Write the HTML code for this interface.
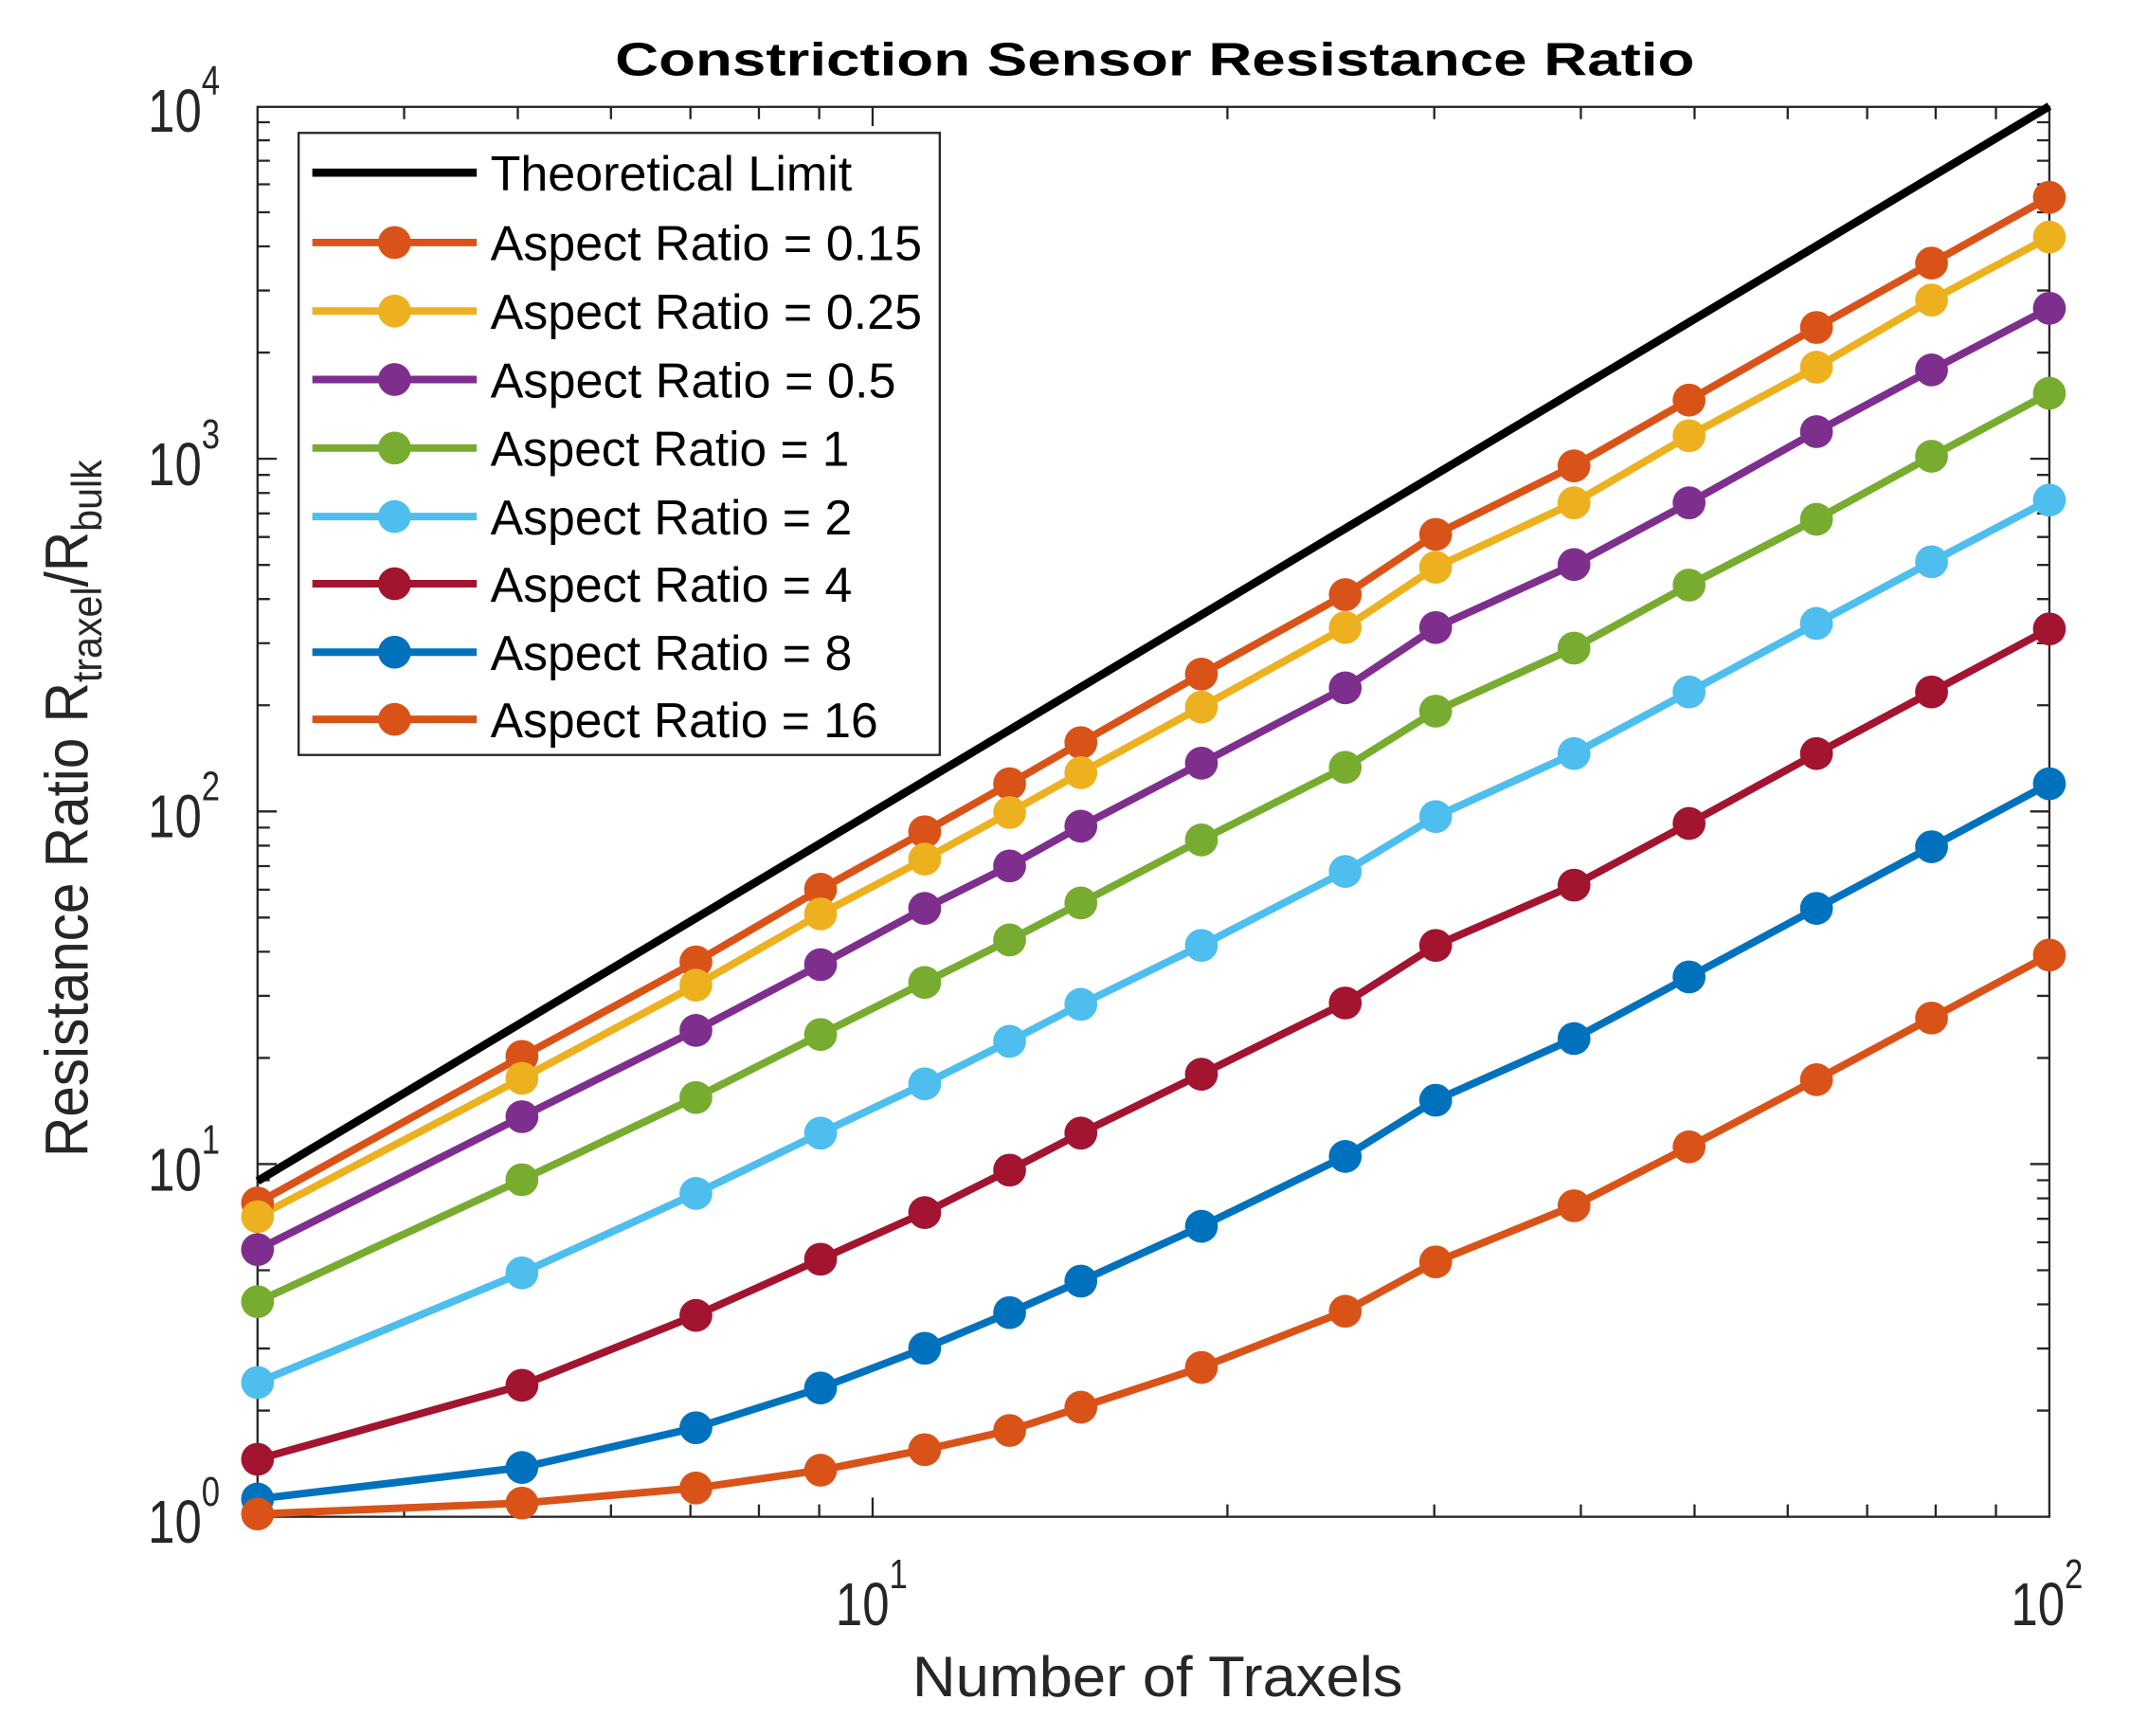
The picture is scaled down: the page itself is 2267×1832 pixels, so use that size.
<!DOCTYPE html>
<html><head><meta charset="utf-8"><style>html,body{margin:0;padding:0;background:#fff}svg{display:block}</style></head>
<body>
<svg width="2267" height="1832" viewBox="0 0 1568 1267" preserveAspectRatio="none" xmlns="http://www.w3.org/2000/svg" font-family="Liberation Sans, Arial, sans-serif">
<rect width="1568" height="1267" fill="#fff"/>
<text x="843" y="55" font-size="34" font-weight="bold" text-anchor="middle" fill="#000" textLength="788" lengthAdjust="spacingAndGlyphs">Constriction Sensor Resistance Ratio</text>
<g stroke="#262626" stroke-width="1.6" fill="none">
<rect x="188" y="78" width="1308" height="1029"/>
<path d="M188 849.6h14M188 592.2h14M188 334.8h14M1496 849.6h-14M1496 592.2h-14M1496 334.8h-14
M637 1107v-14M637 78v14"/>
<path d="M188 1029.5h9M188 984.2h9M188 952h9M188 927.1h9M188 906.7h9M188 889.5h9M188 874.6h9M188 861.4h9
M188 772.1h9M188 726.8h9M188 694.6h9M188 669.7h9M188 649.3h9M188 632.1h9M188 617.2h9M188 604h9
M188 514.7h9M188 469.4h9M188 437.2h9M188 412.3h9M188 391.9h9M188 374.7h9M188 359.8h9M188 346.6h9
M188 257.3h9M188 212h9M188 179.8h9M188 154.9h9M188 134.5h9M188 117.3h9M188 102.4h9M188 89.2h9"/>
<path d="M1496 1029.5h-9M1496 984.2h-9M1496 952h-9M1496 927.1h-9M1496 906.7h-9M1496 889.5h-9M1496 874.6h-9M1496 861.4h-9
M1496 772.1h-9M1496 726.8h-9M1496 694.6h-9M1496 669.7h-9M1496 649.3h-9M1496 632.1h-9M1496 617.2h-9M1496 604h-9
M1496 514.7h-9M1496 469.4h-9M1496 437.2h-9M1496 412.3h-9M1496 391.9h-9M1496 374.7h-9M1496 359.8h-9M1496 346.6h-9
M1496 257.3h-9M1496 212h-9M1496 179.8h-9M1496 154.9h-9M1496 134.5h-9M1496 117.3h-9M1496 102.4h-9M1496 89.2h-9"/>
<path d="M295 1107v-9M378 1107v-9M446 1107v-9M504 1107v-9M554 1107v-9M598 1107v-9M896 1107v-9M1047 1107v-9M1154 1107v-9M1237 1107v-9M1305 1107v-9M1363 1107v-9M1413 1107v-9M1457 1107v-9
M295 78v9M378 78v9M446 78v9M504 78v9M554 78v9M598 78v9M896 78v9M1047 78v9M1154 78v9M1237 78v9M1305 78v9M1363 78v9M1413 78v9M1457 78v9"/>
</g>
<g font-size="44" fill="#262626">
<g transform="translate(108,1126) scale(0.8,1)"><text x="0" y="0">10<tspan font-size="30" dy="-27">0</tspan></text></g>
<g transform="translate(108,869) scale(0.8,1)"><text x="0" y="0">10<tspan font-size="30" dy="-27">1</tspan></text></g>
<g transform="translate(108,611) scale(0.8,1)"><text x="0" y="0">10<tspan font-size="30" dy="-27">2</tspan></text></g>
<g transform="translate(108,354) scale(0.8,1)"><text x="0" y="0">10<tspan font-size="30" dy="-27">3</tspan></text></g>
<g transform="translate(108,96) scale(0.8,1)"><text x="0" y="0">10<tspan font-size="30" dy="-27">4</tspan></text></g>
<g transform="translate(610,1186) scale(0.8,1)"><text x="0" y="0">10<tspan font-size="30" dy="-27">1</tspan></text></g>
<g transform="translate(1468,1186) scale(0.8,1)"><text x="0" y="0">10<tspan font-size="30" dy="-27">2</tspan></text></g>
</g>
<text x="845" y="1238" font-size="42" fill="#262626" text-anchor="middle" textLength="358" lengthAdjust="spacingAndGlyphs">Number of Traxels</text>
<g transform="translate(64,590) rotate(-90) scale(0.92,1)"><text font-size="44" fill="#262626" text-anchor="middle">Resistance Ratio R<tspan font-size="31" dy="10">traxel</tspan><tspan dy="-10">/R</tspan><tspan font-size="31" dy="10">bulk</tspan></text></g>
<g fill="none" stroke-width="5.5" stroke-linejoin="round">
<polyline stroke="#000" stroke-width="6" points="188,862 1496,77.5"/>
<polyline stroke="#D95319" points="188,878 381,771 508,702 599,649 675,607 737,572 789,542 877,492 982,434 1048,390 1149,340 1233,292 1326,239 1410,192 1496,144"/>
<polyline stroke="#EDB120" points="188,888 381,787 508,719 599,667 675,627 737,593 789,564 877,516 982,458 1048,414 1149,367 1233,318 1326,268 1410,219 1496,173"/>
<polyline stroke="#7E2F8E" points="188,912 381,815 508,752 599,704 675,663 737,632 789,603 877,557 982,502 1048,458 1149,412 1233,367 1326,315 1410,270 1496,225"/>
<polyline stroke="#77AC30" points="188,950 381,861 508,801 599,755 675,717 737,686 789,659 877,613 982,560 1048,519 1149,473 1233,427 1326,379 1410,333 1496,287"/>
<polyline stroke="#4DBEEE" points="188,1009 381,929 508,871 599,827 675,791 737,760 789,733 877,690 982,636 1048,596 1149,550 1233,505 1326,455 1410,410 1496,365"/>
<polyline stroke="#A2142F" points="188,1065 381,1011 508,960 599,919 675,885 737,854 789,827 877,784 982,732 1048,690 1149,646 1233,601 1326,550 1410,505 1496,459"/>
<polyline stroke="#0072BD" points="188,1094 381,1071 508,1042 599,1013 675,984 737,958 789,935 877,895 982,844 1048,803 1149,758 1233,713 1326,663 1410,618 1496,572"/>
<polyline stroke="#D95319" points="188,1105 381,1097 508,1086 599,1073 675,1058 737,1044 789,1027 877,998 982,957 1048,921 1149,880 1233,837 1326,788 1410,743 1496,697"/>
</g>
<g fill="#D95319"><circle cx="188" cy="878" r="12"/><circle cx="381" cy="771" r="12"/><circle cx="508" cy="702" r="12"/><circle cx="599" cy="649" r="12"/><circle cx="675" cy="607" r="12"/><circle cx="737" cy="572" r="12"/><circle cx="789" cy="542" r="12"/><circle cx="877" cy="492" r="12"/><circle cx="982" cy="434" r="12"/><circle cx="1048" cy="390" r="12"/><circle cx="1149" cy="340" r="12"/><circle cx="1233" cy="292" r="12"/><circle cx="1326" cy="239" r="12"/><circle cx="1410" cy="192" r="12"/><circle cx="1496" cy="144" r="12"/></g>
<g fill="#EDB120"><circle cx="188" cy="888" r="12"/><circle cx="381" cy="787" r="12"/><circle cx="508" cy="719" r="12"/><circle cx="599" cy="667" r="12"/><circle cx="675" cy="627" r="12"/><circle cx="737" cy="593" r="12"/><circle cx="789" cy="564" r="12"/><circle cx="877" cy="516" r="12"/><circle cx="982" cy="458" r="12"/><circle cx="1048" cy="414" r="12"/><circle cx="1149" cy="367" r="12"/><circle cx="1233" cy="318" r="12"/><circle cx="1326" cy="268" r="12"/><circle cx="1410" cy="219" r="12"/><circle cx="1496" cy="173" r="12"/></g>
<g fill="#7E2F8E"><circle cx="188" cy="912" r="12"/><circle cx="381" cy="815" r="12"/><circle cx="508" cy="752" r="12"/><circle cx="599" cy="704" r="12"/><circle cx="675" cy="663" r="12"/><circle cx="737" cy="632" r="12"/><circle cx="789" cy="603" r="12"/><circle cx="877" cy="557" r="12"/><circle cx="982" cy="502" r="12"/><circle cx="1048" cy="458" r="12"/><circle cx="1149" cy="412" r="12"/><circle cx="1233" cy="367" r="12"/><circle cx="1326" cy="315" r="12"/><circle cx="1410" cy="270" r="12"/><circle cx="1496" cy="225" r="12"/></g>
<g fill="#77AC30"><circle cx="188" cy="950" r="12"/><circle cx="381" cy="861" r="12"/><circle cx="508" cy="801" r="12"/><circle cx="599" cy="755" r="12"/><circle cx="675" cy="717" r="12"/><circle cx="737" cy="686" r="12"/><circle cx="789" cy="659" r="12"/><circle cx="877" cy="613" r="12"/><circle cx="982" cy="560" r="12"/><circle cx="1048" cy="519" r="12"/><circle cx="1149" cy="473" r="12"/><circle cx="1233" cy="427" r="12"/><circle cx="1326" cy="379" r="12"/><circle cx="1410" cy="333" r="12"/><circle cx="1496" cy="287" r="12"/></g>
<g fill="#4DBEEE"><circle cx="188" cy="1009" r="12"/><circle cx="381" cy="929" r="12"/><circle cx="508" cy="871" r="12"/><circle cx="599" cy="827" r="12"/><circle cx="675" cy="791" r="12"/><circle cx="737" cy="760" r="12"/><circle cx="789" cy="733" r="12"/><circle cx="877" cy="690" r="12"/><circle cx="982" cy="636" r="12"/><circle cx="1048" cy="596" r="12"/><circle cx="1149" cy="550" r="12"/><circle cx="1233" cy="505" r="12"/><circle cx="1326" cy="455" r="12"/><circle cx="1410" cy="410" r="12"/><circle cx="1496" cy="365" r="12"/></g>
<g fill="#A2142F"><circle cx="188" cy="1065" r="12"/><circle cx="381" cy="1011" r="12"/><circle cx="508" cy="960" r="12"/><circle cx="599" cy="919" r="12"/><circle cx="675" cy="885" r="12"/><circle cx="737" cy="854" r="12"/><circle cx="789" cy="827" r="12"/><circle cx="877" cy="784" r="12"/><circle cx="982" cy="732" r="12"/><circle cx="1048" cy="690" r="12"/><circle cx="1149" cy="646" r="12"/><circle cx="1233" cy="601" r="12"/><circle cx="1326" cy="550" r="12"/><circle cx="1410" cy="505" r="12"/><circle cx="1496" cy="459" r="12"/></g>
<g fill="#0072BD"><circle cx="188" cy="1094" r="12"/><circle cx="381" cy="1071" r="12"/><circle cx="508" cy="1042" r="12"/><circle cx="599" cy="1013" r="12"/><circle cx="675" cy="984" r="12"/><circle cx="737" cy="958" r="12"/><circle cx="789" cy="935" r="12"/><circle cx="877" cy="895" r="12"/><circle cx="982" cy="844" r="12"/><circle cx="1048" cy="803" r="12"/><circle cx="1149" cy="758" r="12"/><circle cx="1233" cy="713" r="12"/><circle cx="1326" cy="663" r="12"/><circle cx="1410" cy="618" r="12"/><circle cx="1496" cy="572" r="12"/></g>
<g fill="#D95319"><circle cx="188" cy="1105" r="12"/><circle cx="381" cy="1097" r="12"/><circle cx="508" cy="1086" r="12"/><circle cx="599" cy="1073" r="12"/><circle cx="675" cy="1058" r="12"/><circle cx="737" cy="1044" r="12"/><circle cx="789" cy="1027" r="12"/><circle cx="877" cy="998" r="12"/><circle cx="982" cy="957" r="12"/><circle cx="1048" cy="921" r="12"/><circle cx="1149" cy="880" r="12"/><circle cx="1233" cy="837" r="12"/><circle cx="1326" cy="788" r="12"/><circle cx="1410" cy="743" r="12"/><circle cx="1496" cy="697" r="12"/></g>
<rect x="218" y="97" width="468" height="454" fill="#fff" stroke="#262626" stroke-width="1.6"/>
<g stroke-width="5.5">
<line x1="228" y1="126" x2="348" y2="126" stroke="#000" stroke-width="6"/>
<line x1="228" y1="177" x2="348" y2="177" stroke="#D95319"/><circle cx="288" cy="177" r="12" fill="#D95319"/>
<line x1="228" y1="227" x2="348" y2="227" stroke="#EDB120"/><circle cx="288" cy="227" r="12" fill="#EDB120"/>
<line x1="228" y1="277" x2="348" y2="277" stroke="#7E2F8E"/><circle cx="288" cy="277" r="12" fill="#7E2F8E"/>
<line x1="228" y1="327" x2="348" y2="327" stroke="#77AC30"/><circle cx="288" cy="327" r="12" fill="#77AC30"/>
<line x1="228" y1="377" x2="348" y2="377" stroke="#4DBEEE"/><circle cx="288" cy="377" r="12" fill="#4DBEEE"/>
<line x1="228" y1="426" x2="348" y2="426" stroke="#A2142F"/><circle cx="288" cy="426" r="12" fill="#A2142F"/>
<line x1="228" y1="476" x2="348" y2="476" stroke="#0072BD"/><circle cx="288" cy="476" r="12" fill="#0072BD"/>
<line x1="228" y1="525" x2="348" y2="525" stroke="#D95319"/><circle cx="288" cy="525" r="12" fill="#D95319"/>
</g>
<g font-size="36" fill="#000">
<text x="358" y="139" textLength="264" lengthAdjust="spacingAndGlyphs">Theoretical Limit</text>
<text x="358" y="190" textLength="315" lengthAdjust="spacingAndGlyphs">Aspect Ratio = 0.15</text>
<text x="358" y="240" textLength="315" lengthAdjust="spacingAndGlyphs">Aspect Ratio = 0.25</text>
<text x="358" y="290" textLength="296" lengthAdjust="spacingAndGlyphs">Aspect Ratio = 0.5</text>
<text x="358" y="340" textLength="262" lengthAdjust="spacingAndGlyphs">Aspect Ratio = 1</text>
<text x="358" y="390" textLength="264" lengthAdjust="spacingAndGlyphs">Aspect Ratio = 2</text>
<text x="358" y="439" textLength="264" lengthAdjust="spacingAndGlyphs">Aspect Ratio = 4</text>
<text x="358" y="489" textLength="264" lengthAdjust="spacingAndGlyphs">Aspect Ratio = 8</text>
<text x="358" y="538" textLength="283" lengthAdjust="spacingAndGlyphs">Aspect Ratio = 16</text>
</g>
</svg>
</body></html>
